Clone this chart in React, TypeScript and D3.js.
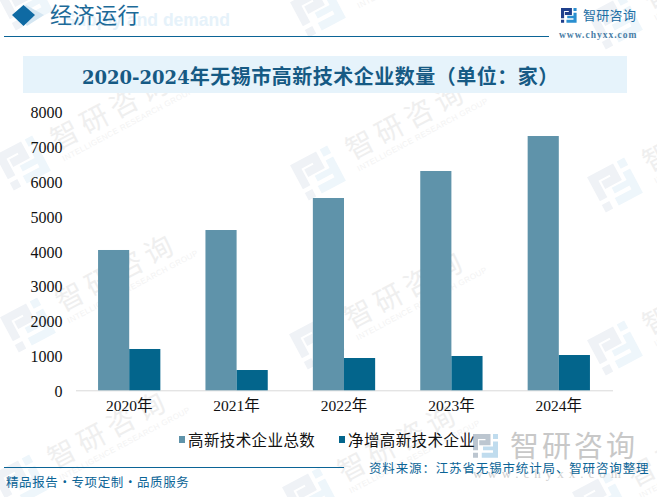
import { useEffect, useRef } from "react";
import * as d3 from "d3";

const years = ["2020年", "2021年", "2022年", "2023年", "2024年"];
const totalFirms = [4032, 4606, 5526, 6302, 7307];
const netAdded = [1187, 583, 928, 986, 1014];
const yTicks = [0, 1000, 2000, 3000, 4000, 5000, 6000, 7000, 8000];
const seriesNames = ["高新技术企业总数", "净增高新技术企业"];
const seriesColors = ["#5f93aa", "#03658c"];
// logo centres of the repeated background watermark
const markSpots = [
  [25, 3], [318, 10], [615, 22],
  [23, 163], [318, 173], [615, 185],
  [28, 325], [317, 342], [615, 348],
  [20, 482], [310, 495], [600, 500],
];

const serif = "'Liberation Serif', 'Noto Sans CJK SC', serif";
const cjk = "'Noto Sans CJK SC', sans-serif";

export default function App() {
  const ref = useRef<SVGSVGElement | null>(null);

  useEffect(() => {
    if (!ref.current) return;
    const svg = d3.select(ref.current);
    svg.selectAll("*").remove();

    const width = 657;
    const height = 497;
    const margin = { top: 111.9, right: 44.5, bottom: 106.7, left: 75.5 };

    // logo glyph: two interlocking brackets
    const logo = (g: any, left: string, right: string, s: number) => {
      g.append("path")
        .attr("fill", left)
        .attr("d", `M0 0H${14 * s}V${9 * s}H${5 * s}V${5 * s}H${10 * s}V${4 * s}H${4 * s}V${13 * s}H0Z M0 ${15 * s}H${4 * s}V${19 * s}H0Z`);
      g.append("path")
        .attr("fill", right)
        .attr("d", `M${16 * s} 0H${20 * s}V${4 * s}H${16 * s}Z M${20 * s} ${6 * s}V${19 * s}H${7 * s}V${15 * s}H${16 * s}V${13 * s}H${8 * s}V${10 * s}H${16 * s}V${6 * s}Z`);
    };

    // background watermark
    const marks = svg.append("g");
    markSpots.forEach(([cx, cy]) => {
      const m = marks.append("g").attr("transform", `translate(${cx},${cy}) rotate(-28)`);
      logo(m.append("g").attr("transform", "translate(-21,-20)"), "#eff2f6", "#eef6fb", 2.1);
      m.append("text")
        .attr("x", 36).attr("y", 5)
        .attr("font-family", cjk).attr("font-size", 28).attr("letter-spacing", 5.5)
        .attr("fill", "#efefef")
        .text("智研咨询");
      m.append("text")
        .attr("x", 37).attr("y", 18)
        .attr("font-family", "'Liberation Sans', sans-serif").attr("font-size", 8).attr("letter-spacing", 0.4)
        .attr("fill", "#f3f3f3")
        .text("INTELLIGENCE RESEARCH GROUP");
    });

    // header
    svg.append("text")
      .attr("x", 230).attr("y", 26)
      .attr("text-anchor", "end")
      .attr("font-family", "'Liberation Sans', sans-serif").attr("font-weight", 700).attr("font-size", 17.5)
      .attr("fill", "#e6f2fa")
      .text("Supply and demand");
    svg.append("path").attr("fill", "#d4e6f2").attr("d", "M26 5L44 15L27 26L18 15Z");
    svg.append("path").attr("fill", "#0f6aa3").attr("d", "M23.5 5L35 15L23.5 26L12 15Z");
    svg.append("text")
      .attr("x", 50).attr("y", 23)
      .attr("font-family", cjk).attr("font-size", 22).attr("letter-spacing", 0.5)
      .attr("fill", "#1d6a98")
      .text("经济运行");
    svg.append("line")
      .attr("x1", 4).attr("x2", 549).attr("y1", 36.5).attr("y2", 36.5)
      .attr("stroke", "#0b6496").attr("stroke-width", 1);

    logo(svg.append("g").attr("transform", "translate(561,8)"), "#1f3f8c", "#2a8fd0", 0.78);
    svg.append("text")
      .attr("x", 583).attr("y", 20)
      .attr("font-family", cjk).attr("font-size", 13).attr("letter-spacing", 0.3)
      .attr("fill", "#1c6ea4")
      .text("智研咨询");
    svg.append("text")
      .attr("x", 559).attr("y", 38)
      .attr("font-family", serif).attr("font-size", 9.5).attr("font-weight", 700).attr("letter-spacing", 1)
      .attr("fill", "#4a7ea6")
      .text("www.chyxx.com");

    // title band
    svg.append("rect")
      .attr("x", 23).attr("y", 56).attr("width", 604).attr("height", 37)
      .attr("fill", "#e6f3fb");
    const title = svg.append("text")
      .attr("x", 82).attr("y", 84)
      .attr("font-weight", 700)
      .attr("fill", "#165a84");
    title.append("tspan")
      .attr("font-family", "'DejaVu Serif', serif").attr("font-size", 18)
      .text("2020-2024");
    title.append("tspan")
      .attr("font-family", cjk).attr("font-size", 20).attr("letter-spacing", 0.5)
      .text("年无锡市高新技术企业数量（单位：家）");

    // scales
    const x = d3.scaleBand<string>()
      .domain(years)
      .range([margin.left, width - margin.right]);
    const y = d3.scaleLinear()
      .domain([0, 8000])
      .range([height - margin.bottom, margin.top]);
    const barW = x.bandwidth() * 0.29;

    // axes
    const yAxis = d3.axisLeft(y).tickValues(yTicks).tickSize(0).tickPadding(13).tickFormat(d3.format("d") as any);
    const yG = svg.append("g").attr("transform", `translate(${margin.left},0)`).call(yAxis);
    const xAxis = d3.axisBottom(x).tickSize(0).tickPadding(10);
    const xG = svg.append("g").attr("transform", `translate(0,${height - margin.bottom})`).call(xAxis);
    yG.select(".domain").remove();
    xG.select(".domain").attr("stroke", "#d9d9d9").attr("stroke-width", 1);
    [yG, xG].forEach((g) => {
      g.selectAll("text")
        .attr("font-family", serif).attr("font-size", 16).attr("fill", "#111");
    });
    yG.selectAll("text").attr("dy", "0.37em");
    xG.selectAll("text").attr("font-size", 15.5);

    // bars
    [totalFirms, netAdded].forEach((values, i) => {
      svg.append("g")
        .attr("fill", seriesColors[i])
        .selectAll("rect")
        .data(values)
        .join("rect")
        .attr("x", (_, k) => (x(years[k]) as number) + x.bandwidth() / 2 + (i - 1) * barW)
        .attr("y", (d) => y(d))
        .attr("width", barW)
        .attr("height", (d) => y(0) - y(d));
    });

    // bottom-right brand
    logo(svg.append("g").attr("transform", "translate(473,434)"), "#bcc6d0", "#c0dcee", 1.25);
    svg.append("text")
      .attr("x", 510).attr("y", 457)
      .attr("font-family", cjk).attr("font-size", 29).attr("letter-spacing", 3)
      .attr("fill", "#c8c8c8")
      .text("智研咨询");
    svg.append("text")
      .attr("x", 473).attr("y", 478)
      .attr("font-family", serif).attr("font-size", 13).attr("letter-spacing", 5)
      .attr("fill", "#d0d0d0")
      .text("www.chyxx.com");

    // legend
    const legendX = [179, 339];
    seriesNames.forEach((name, i) => {
      svg.append("rect")
        .attr("x", legendX[i]).attr("y", 436).attr("width", 6).attr("height", 7)
        .attr("fill", seriesColors[i]);
      svg.append("text")
        .attr("x", legendX[i] + 9).attr("y", 446)
        .attr("font-family", cjk).attr("font-size", 15.5).attr("letter-spacing", 0.4)
        .attr("fill", "#111")
        .text(name);
    });

    // footer
    svg.append("line")
      .attr("x1", 4).attr("x2", 344).attr("y1", 467.5).attr("y2", 467.5)
      .attr("stroke", "#0b6496").attr("stroke-width", 1);
    svg.append("text")
      .attr("x", 6).attr("y", 487)
      .attr("font-family", cjk).attr("font-size", 12.5).attr("letter-spacing", 0.6)
      .attr("fill", "#0b6496")
      .text("精品报告·专项定制·品质服务");
    svg.append("text")
      .attr("x", 369).attr("y", 473)
      .attr("font-family", cjk).attr("font-size", 12.5).attr("letter-spacing", 0.85)
      .attr("fill", "#0b6496")
      .text("资料来源：江苏省无锡市统计局、智研咨询整理");
  }, []);

  return (
    <svg
      ref={ref}
      width={657}
      height={497}
      style={{ position: "absolute", left: 0, top: 0, background: "#fff" }}
    />
  );
}
